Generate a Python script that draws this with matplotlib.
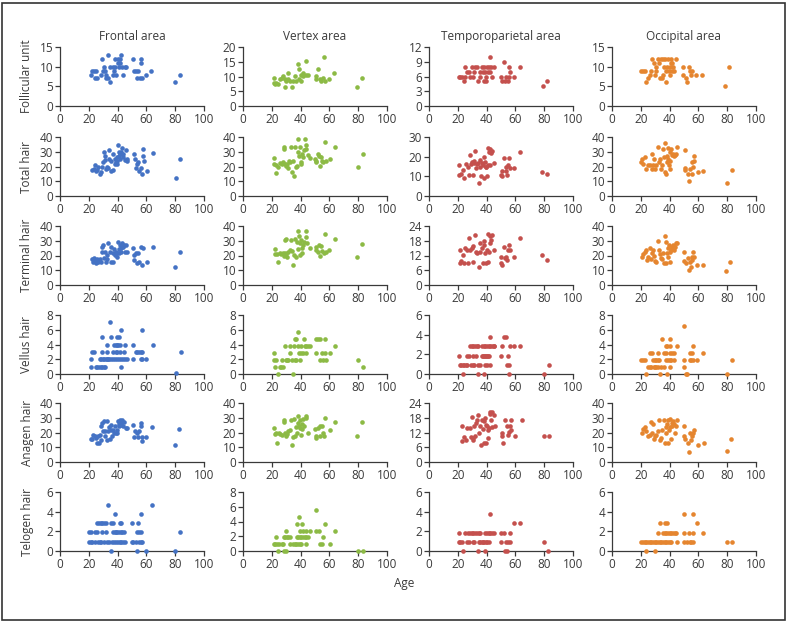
import matplotlib
matplotlib.use('Agg')
import matplotlib.pyplot as plt
from matplotlib.patches import Rectangle
import numpy as np

# (age, value) pairs

# --- Follicular unit ---
fu_frontal = [(21.8, 8), (22, 9), (23.5, 9), (25, 9), (24.5, 7), (26, 7), (29, 12), (28.5, 8), (30, 9),
              (30.5, 10), (32, 8), (31.5, 9), (32, 7), (33, 13), (33, 7), (35, 6), (35, 10), (37, 10),
              (37, 8), (37.5, 9), (38.5, 10), (39, 8), (38.5, 12), (40, 12), (40, 11), (41, 10), (42, 12),
              (42.5, 13), (42, 11), (43, 10), (44, 8), (45, 10), (46, 10), (51, 12), (51.5, 9), (53, 9),
              (54, 9), (53.5, 7), (55.5, 7), (56.5, 12), (56.5, 11), (57, 7), (59.5, 8), (63.5, 9),
              (80, 6), (83, 8)]
fu_vertex = [(21.3, 9.5), (21.3, 7.9), (22.2, 7.3), (23, 7.9), (24.5, 7.6), (25.5, 9), (27, 9.5), (28, 10.3),
             (29, 6.5), (29.5, 9), (30, 8.4), (31, 11.2), (31.5, 9), (32.5, 8.4), (34, 6.5), (35, 8.4),
             (36, 10.3), (37, 8.4), (38, 14.4), (39, 12.4), (39, 9), (40, 10.5), (40.5, 8.4), (41.5, 11.2),
             (42, 10.3), (43.5, 15.4), (44, 10.5), (45, 10.5), (52, 12.4), (51, 10.3), (50.5, 9), (53.5, 9),
             (54.5, 8.4), (55.5, 9.5), (56, 16.5), (57, 8.4), (60, 9), (63, 11.2), (79.5, 6.5), (82.5, 9.5)]
fu_temporo = [(20.5, 6), (21.6, 6), (22.8, 6), (24, 5), (25.1, 8), (25.1, 6), (26.7, 7), (28.1, 7), (28.6, 6),
              (29.8, 8), (30.5, 6), (31.4, 7), (32.1, 8), (33.3, 8), (34.2, 5), (35.1, 7), (35.6, 6),
              (36.7, 8), (37.4, 7), (37.9, 5), (38.4, 8), (39.1, 7), (39.8, 6), (39.8, 5), (40.2, 8),
              (40.7, 7), (41.6, 8), (42.1, 10), (42.6, 7), (43.3, 8), (43.7, 6), (45.3, 8), (50, 6),
              (50.5, 5), (51.9, 9), (53, 5), (53.7, 6), (54.7, 5), (55.3, 6), (55.8, 8), (56, 7),
              (58.8, 6), (63, 8), (79, 4), (81.9, 5)]
fu_occipital = [(20.4, 9), (21.6, 9), (22.7, 9), (23.9, 6), (25.1, 7), (26.7, 8), (27.4, 9), (28.1, 12),
                (29, 11), (29.7, 8), (30.4, 9), (30.9, 10), (31.6, 12), (32.3, 11), (33.2, 7), (34.3, 12),
                (34.6, 7), (35.5, 12), (35.5, 8), (36.2, 10), (36.9, 12), (37.4, 6), (37.8, 9), (38.3, 10),
                (39, 12), (39.4, 9), (40.1, 10), (40.1, 8), (40.8, 11), (41.3, 12), (42, 9), (42, 11),
                (42.5, 10), (43.2, 9), (44.3, 12), (49.4, 10), (49.4, 8), (51.3, 7), (52.4, 6), (53.4, 10),
                (54.1, 9), (54.8, 8), (55.5, 9), (58.2, 8), (62.2, 8), (78.4, 5), (81.4, 10)]

# --- Total hair ---
total_frontal = [(22.5, 17.6), (23.6, 18.3), (24.3, 21), (24.8, 17), (25.9, 17.6), (26.6, 20), (27.5, 15),
                 (28.2, 16), (29.4, 19.4), (30, 23.3), (30.6, 30), (31, 27.4), (31.2, 24.5), (32, 18.3),
                 (32.4, 19.4), (33.3, 18.8), (34, 31.3), (34.3, 25), (35.2, 24), (35.6, 17), (36.6, 28.3),
                 (37, 17.6), (38, 21.7), (38.4, 25), (38.9, 22.8), (39.4, 22), (39.8, 24), (39.8, 26.3),
                 (40.5, 34.3), (40.9, 29.7), (41.2, 27.4), (41.7, 25), (42, 28.6), (42.6, 29.7), (43, 32.5),
                 (43.5, 26.3), (43.9, 28.6), (44.9, 24.5), (45.6, 30.9), (46.3, 24), (46.8, 25), (51.4, 28.6),
                 (51.9, 25), (52.5, 18.8), (53.7, 21.7), (54.2, 23.3), (55, 17), (56, 18.8), (57.2, 15),
                 (57.4, 27.4), (57.9, 32), (58.3, 24), (60.6, 17), (64.6, 29.3), (80.3, 12), (83.3, 25)]
total_vertex = [(21.3, 25.6), (21.3, 21.7), (23, 15.5), (22.7, 21), (24.5, 20), (25.5, 22.4), (26.8, 21.7),
                (27.8, 22.8), (28.5, 32), (28.7, 33.1), (29.2, 21.7), (30, 20.6), (30.6, 21.7), (31.5, 19.2),
                (31.9, 24), (32.9, 22.8), (33.1, 33.1), (34.3, 16), (34.7, 24), (35.2, 13.7), (36.1, 33.1),
                (36.6, 19.4), (37.5, 20.6), (38, 38.9), (38.4, 29.7), (38.9, 27.4), (39.4, 33.1), (40, 21.7),
                (40.5, 22.8), (40.7, 28.6), (41.7, 26.3), (42.1, 30.9), (43.3, 38.9), (43.5, 32), (44, 34.3),
                (45.1, 28), (46.3, 25.6), (49.8, 25), (50.5, 22.8), (50.9, 24), (52, 28.6), (52.8, 27.4),
                (53.7, 20.6), (54.2, 26.3), (54.6, 24), (55.6, 22.8), (56.7, 36.6), (57.9, 24), (60.2, 25),
                (64, 33.1), (80, 19.4), (83.3, 28.6)]
total_temporo = [(20.5, 16), (21, 10.8), (22, 11), (23.5, 13.2), (24, 9), (25.8, 16.3), (27.4, 15), (28, 10.8),
                 (28.6, 21), (29, 16.3), (29.8, 17.5), (30.5, 10.8), (31, 18), (31.4, 16.8), (32, 23),
                 (32.3, 14), (33.3, 16.3), (33.7, 17), (34.4, 6.8), (35.1, 18.4), (35.6, 14.5), (36, 10),
                 (36.7, 16.8), (37.4, 15.8), (37.9, 19.7), (38.4, 9), (38.8, 17.5), (39.3, 14.6), (39.8, 15),
                 (40.2, 10.3), (40.7, 15.8), (41.2, 24.4), (41.6, 22.3), (42.1, 15.8), (42.6, 23.7),
                 (43.3, 21.8), (43.7, 23), (45.3, 17), (50, 10.8), (50.5, 12.5), (50.5, 10), (52.3, 19.2),
                 (53.3, 15), (53.7, 12.8), (54.2, 10.8), (55.1, 15.8), (55.8, 19.2), (56, 14), (59.3, 14),
                 (63.5, 22.3), (78.8, 12), (82, 11)]
total_occipital = [(20.4, 22.9), (21.1, 25), (21.6, 21.7), (22.7, 26.3), (23.9, 18.3), (25.1, 21), (26.7, 21),
                   (27.6, 28.6), (28.1, 18.3), (28.5, 21), (29.2, 25), (29.9, 18.3), (30.9, 21), (32, 33.1),
                   (32.7, 22.9), (33.6, 25), (34.3, 18.3), (35, 21), (35.5, 32), (36.2, 26.3), (36.7, 16),
                   (36.9, 36.1), (37.8, 14.9), (38, 22.9), (38.5, 27.4), (39, 32.7), (39.2, 25), (39.7, 21),
                   (40.1, 18.3), (40.1, 29.7), (40.6, 24), (41.3, 32), (42, 27.9), (42.5, 28.6), (42.9, 27.4),
                   (43.6, 27.9), (44.3, 28.6), (45.2, 33.1), (50.6, 30.9), (50.6, 18.8), (50.8, 17.6),
                   (52.9, 14.9), (53.6, 10.3), (54.5, 18.3), (55.5, 22.9), (55.9, 14.9), (56.4, 19.4),
                   (56.8, 27.4), (56.8, 24), (59.9, 16), (63.3, 17.1), (80, 9.1), (83, 17.8)]

# --- Terminal hair ---
terminal_frontal = [(22.5, 17.4), (22.9, 15.9), (23.6, 18.1), (24.3, 16.5), (24.8, 14.7), (25.5, 17.4),
                    (26.4, 15.9), (27.1, 17), (27.8, 17.4), (28.2, 15.9), (29, 25.9), (29.4, 22.6), (30, 27),
                    (30.6, 18.1), (31, 22.6), (31.7, 15.9), (32.4, 17.4), (32.9, 20.3), (33.3, 28.2),
                    (34.7, 22.6), (35.2, 15.9), (35.6, 25.9), (36.6, 22), (37, 15.9), (37.5, 24.1), (38, 20.3),
                    (38.7, 22.6), (39.4, 18.8), (39.8, 22), (40.3, 29.4), (40.7, 24.6), (41.2, 21.5), (41.7, 27),
                    (42.1, 24.8), (42.6, 22.6), (43, 28.2), (43.5, 25.9), (44.4, 27), (44.9, 22.6), (45.8, 27),
                    (46.8, 22.6), (50.9, 24.8), (51.4, 20.3), (51.4, 17), (52.5, 22), (53.7, 14.7),
                    (54.4, 21.5), (55, 15.9), (56.5, 25.9), (57.2, 13.6), (57.9, 24.8), (60.2, 15.9),
                    (64.4, 25.5), (79.9, 12.5), (83.1, 22.6)]
terminal_vertex = [(22, 24.1), (22, 21), (23.6, 20.8), (24.5, 15.6), (25.5, 21.9), (26.6, 21), (27.8, 21.9),
                   (28.5, 19.7), (28.9, 30.8), (29.4, 21.9), (29.6, 31.5), (30.1, 21), (30.6, 19.2), (31.5, 22.6),
                   (32.4, 23.7), (33.1, 30.8), (33.8, 23.2), (34.7, 13.6), (35.2, 20.3), (35.9, 31.5),
                   (36.6, 19.2), (37.5, 29.3), (38, 24.1), (38.4, 36.3), (38.9, 33), (39.4, 20.3), (39.8, 28.2),
                   (40.3, 30.4), (40.7, 24.8), (41.2, 21.5), (41.7, 27), (42.6, 29.3), (43.5, 36.3), (44, 32.6),
                   (44.4, 28.2), (46.3, 24.8), (50.5, 23.7), (50.9, 25.9), (52.1, 22.6), (52.8, 27), (53.7, 19.7),
                   (54.4, 26.4), (55.1, 23.2), (56, 21.9), (56.7, 34.4), (57.9, 22.6), (59.7, 23.7),
                   (63.9, 31.5), (79.4, 18.8), (82.9, 27.5)]
terminal_temporo = [(21.2, 14.2), (21.2, 9.1), (22.1, 9.9), (23.5, 12.2), (24, 9.1), (25.1, 14.9), (26.3, 14.2),
                    (27.4, 9.1), (28.1, 19.3), (28.6, 14.2), (29.8, 14.9), (30.5, 15.8), (30.9, 9.5), (32.1, 20.2),
                    (32.8, 13.5), (33.3, 12.9), (34.4, 7.5), (35.1, 13.5), (35.6, 17.2), (36.7, 14.9), (37.4, 9.1),
                    (37.9, 18), (38.4, 16.2), (39.1, 12.9), (39.8, 9.1), (40.2, 14.2), (40.7, 9.5), (41.2, 20.9),
                    (41.6, 13.5), (42.1, 16.9), (42.6, 20), (43.3, 18.5), (43.7, 20.5), (45.3, 14.2), (50, 11.3),
                    (50.2, 9.1), (50.5, 8.2), (51.9, 15.3), (53, 10.9), (53.7, 11.5), (54.2, 10.2), (55.1, 14.2),
                    (55.8, 16.2), (56, 14.2), (58.8, 11.3), (63, 19.2), (78.8, 12.2), (81.9, 10.2)]
terminal_occipital = [(21.1, 19.2), (21.6, 21), (22.7, 22.6), (23.9, 23.7), (24.4, 17), (25.1, 19.2),
                      (26.7, 24.8), (27.4, 17.4), (28.1, 21.5), (28.5, 23.7), (29.2, 19.7), (29.7, 16.3),
                      (30.9, 15.9), (32, 29.9), (32.7, 23.7), (33.6, 21), (34.3, 18.1), (35, 17.4), (35.5, 21.9),
                      (36.2, 14.7), (36.9, 33.3), (37.4, 29.3), (37.8, 14.7), (38.3, 21.5), (38.7, 24.8),
                      (39.2, 19.2), (39.7, 27), (40.1, 15.9), (40.6, 22.6), (41.1, 23.7), (41.5, 25.9),
                      (42, 24.8), (42.5, 27), (42.9, 23.7), (43.6, 25.9), (44.3, 28.2), (45.2, 28.6),
                      (50.1, 22.6), (50.3, 16.5), (51.7, 14.7), (52.9, 18.1), (53.6, 10.3), (54.1, 15.9),
                      (54.8, 12.5), (55.5, 19.2), (55.9, 17), (56.4, 22.6), (56.8, 19.2), (59.2, 13.6),
                      (62.9, 13.6), (79.1, 9.6), (81.9, 15.9)]

# --- Vellus hair ---
vellus_frontal = [(21.3, 1), (24.8, 1), (25.9, 1), (27.1, 1), (28.2, 1), (29.4, 1), (30.6, 1), (31.3, 1), (42.6, 1),
                  (21.8, 2), (27.5, 2), (28.2, 2), (29.6, 2), (30.6, 2), (31.7, 2), (32.4, 2), (33.3, 2), (34.3, 2),
                  (35.2, 2), (37, 2), (38, 2), (39.8, 2), (41, 2), (42.1, 2), (43.8, 2), (44.9, 2), (46.3, 2),
                  (50.9, 2), (56, 2), (57.2, 2), (60, 2),
                  (22.5, 3), (23.6, 3), (29.4, 3), (32.9, 3), (37, 3), (38.7, 3), (39.8, 3), (41.7, 3), (44.4, 3),
                  (52.5, 3), (53.7, 3), (54.9, 3), (56, 3), (57.2, 3), (83.8, 3),
                  (32.4, 4), (37.5, 4), (38.7, 4), (39.8, 4), (40.5, 4), (41.7, 4), (44.9, 4), (50.9, 4), (64.4, 4),
                  (29.4, 5), (35.6, 5), (39.4, 5), (41, 5), (42.6, 6), (57.2, 6), (34.7, 7), (80.3, 0.1)]
vellus_vertex = [(21.3, 2.82), (21.3, 1.88), (23.1, 1.88), (22.2, 0.94), (24.3, 0), (25.5, 0.94), (26.6, 0.94),
                 (27.8, 0.94), (27.3, 1.88), (28.9, 3.76), (29.6, 1.88), (31.5, 1.88), (32.4, 3.76), (30.6, 1.88),
                 (32.9, 2.82), (34.3, 1.88), (34.7, 0), (35.9, 1.88), (37, 1.88), (35.2, 3.76), (35.9, 4.7),
                 (37, 4.7), (38.2, 5.64), (38.9, 2.82), (39.4, 1.88), (38.2, 3.76), (40, 2.82), (40.5, 3.76),
                 (41.7, 2.82), (42.1, 4.7), (42.8, 3.76), (43.5, 2.82), (44, 3.76), (45.1, 3.76), (46.3, 3.76),
                 (50.5, 4.7), (50.9, 2.82), (52.1, 4.7), (53.2, 4.7), (54.6, 2.82), (53.7, 1.88), (55.6, 1.88),
                 (56.7, 2.82), (56.7, 4.7), (57.4, 1.88), (60.2, 2.82), (63.9, 3.76), (80.1, 1.88), (83.3, 0.94)]
vellus_temporo = [(21.2, 0.93), (22.1, 0.93), (23.5, 0.93), (24.4, 0.93), (25.8, 0.93), (26.7, 0.93), (29.1, 0.93),
                  (30.5, 0.93), (31.4, 0.93), (33.7, 0.93), (35.6, 0.93), (39.1, 0.93), (40.2, 0.93), (42.1, 0.93),
                  (54.2, 0.93), (55.8, 0.93), (83.3, 0.93),
                  (20.5, 1.87), (26.7, 1.87), (28.1, 1.87), (30.9, 1.87), (32.3, 1.87), (36.7, 1.87), (37.4, 1.87),
                  (38.4, 1.87), (39.1, 1.87), (39.8, 1.87), (40.2, 1.87), (40.7, 1.87), (41.6, 1.87), (50.2, 1.87),
                  (54.7, 1.87),
                  (28.6, 2.8), (29.8, 2.8), (30.9, 2.8), (32.1, 2.8), (33.3, 2.8), (34.2, 2.8), (36.7, 2.8),
                  (37.9, 2.8), (39.1, 2.8), (40.2, 2.8), (41.4, 2.8), (42.6, 2.8), (43.7, 2.8), (44.9, 2.8),
                  (45.3, 2.8), (50.7, 2.8), (56, 2.8), (59.3, 2.8), (63.5, 2.8),
                  (42.6, 3.73), (52.3, 3.73), (53.3, 3.73),
                  (23.5, 0), (33.7, 0), (38.4, 0), (55.8, 0), (79.8, 0)]
vellus_occipital = [(23.9, 0), (33.6, 0), (38.3, 0), (51.7, 0), (52.4, 0), (80, 0),
                    (25.1, 0.94), (26.2, 0.94), (27.4, 0.94), (29, 0.94), (29.9, 0.94), (30.9, 0.94), (32, 0.94),
                    (34.3, 0.94), (36, 0.94), (40.1, 0.94), (50.1, 0.94),
                    (20.4, 1.88), (21.6, 1.88), (22.7, 1.88), (28.5, 1.88), (29.7, 1.88), (30.9, 1.88), (32, 1.88),
                    (32.7, 1.88), (37.8, 1.88), (39, 1.88), (40.1, 1.88), (41.3, 1.88), (42.9, 1.88), (50.1, 1.88),
                    (54.1, 1.88), (55.2, 1.88), (56.4, 1.88), (59.2, 1.88), (83.1, 1.88),
                    (26.7, 2.82), (27.8, 2.82), (32, 2.82), (36.2, 2.82), (37.8, 2.82), (40.6, 2.82), (42, 2.82),
                    (43.2, 2.82), (54.1, 2.82), (55.5, 2.82), (63.3, 2.82),
                    (37.4, 3.76), (38.3, 3.76), (40.1, 3.76), (44.8, 3.76), (56.4, 3.76),
                    (35, 4.7), (40.1, 4.7), (50.1, 6.5)]

# --- Anagen hair ---
anagen_frontal = [(21.3, 15.5), (22.5, 15.5), (23.1, 18.4), (24.1, 17.3), (24.8, 16.1), (25.9, 12.7), (26.4, 17.3),
                  (27.3, 12.7), (27.8, 18.4), (28.2, 15), (28.7, 24.1), (29.4, 26.4), (29.6, 20.7), (30.6, 27.5),
                  (31, 17.3), (31.5, 20.7), (32.4, 15), (32.9, 27.5), (33.3, 20.7), (34, 23.6), (34.7, 15.5),
                  (35.2, 21.8), (35.6, 25.2), (36.3, 17.7), (37, 21.8), (37.5, 20), (38.2, 24.1), (38.7, 20),
                  (39.4, 19.5), (39.8, 21.8), (40.3, 27.5), (40.7, 25.7), (41.2, 24.1), (41.7, 28.6), (42.1, 26.4),
                  (42.6, 25.2), (43, 28.2), (43.5, 24.1), (44.4, 26.8), (45.6, 23), (46.3, 23), (50.9, 24.8),
                  (51.4, 16.8), (51.9, 20.7), (53.2, 19.5), (54.2, 16.8), (54.9, 20.7), (56.5, 26.4), (56.5, 24.5),
                  (56.9, 13.9), (57.2, 16.8), (59.7, 16.8), (63.7, 23.6), (79.6, 11.6), (82.9, 22.5)]
anagen_vertex = [(21.8, 23), (22, 19.1), (23.1, 19.5), (23.6, 12.7), (25, 19.5), (25.9, 19.1), (27.3, 18.4),
                 (28.2, 28.6), (28.7, 27.3), (29.2, 19.5), (30.1, 17.3), (30.6, 19.1), (31.5, 20.7), (32.4, 21.8),
                 (33.1, 28.6), (34.3, 11.6), (34.7, 16.8), (35.2, 29.1), (35.9, 17.7), (36.6, 23.6), (37.5, 19.5),
                 (38, 30.9), (38.4, 26.4), (38.9, 24.5), (39.4, 28.2), (39.8, 23), (40.3, 18.4), (40.7, 25.9),
                 (41.2, 22.3), (41.7, 29.1), (42.6, 24.5), (43.5, 30.9), (44, 29.8), (44.9, 20), (50, 22.3),
                 (50.5, 17.3), (50.9, 16.1), (52.1, 23), (53.2, 24.1), (53.7, 17.3), (54.6, 24.5), (55.6, 20),
                 (56.3, 17.3), (56.7, 29.5), (60.2, 21.4), (63.7, 27.3), (79.4, 17.3), (82.4, 26.8)]
anagen_temporo = [(22.8, 14.7), (22.8, 8.7), (24.4, 10.1), (25.8, 9), (26.7, 13.8), (28.6, 13.8), (29.1, 10.1),
                  (29.8, 18.3), (30.5, 9), (30.9, 9.7), (31.4, 14.7), (32.1, 10.4), (32.8, 15.8), (33.3, 16.9),
                  (33.7, 19.2), (34.4, 11.7), (35.1, 14.7), (36, 7), (36.7, 16.9), (37.4, 13.4), (37.9, 7.6),
                  (38.4, 16.5), (39.1, 17.9), (39.3, 15.1), (39.8, 7.6), (40.2, 14.5), (40.7, 13.1), (41.2, 9.7),
                  (41.6, 13.8), (42.1, 20.2), (42.6, 19.6), (43, 17.2), (43.5, 20.2), (44, 14.2), (44.9, 19.2),
                  (46, 14.7), (50.7, 12), (50.9, 10.4), (51.4, 7.9), (53, 16.9), (54.2, 14.7), (55.1, 11),
                  (55.6, 12.4), (56, 14.7), (57, 16.9), (57, 13.1), (60, 10.6), (64.7, 17.2), (80.2, 10.6),
                  (83.3, 10.6)]
anagen_occipital = [(21.1, 20), (21.6, 22.3), (22.7, 23.6), (23.9, 20.7), (25.1, 17.3), (26.2, 18.4), (27.4, 26.8),
                    (28.1, 20), (28.5, 25.9), (29, 15.5), (29.7, 17.3), (30.9, 18.4), (32, 20.7), (32.7, 28.2),
                    (33.2, 15), (34.3, 16.1), (35, 21.8), (36, 28.2), (36.7, 12.7), (37.4, 23.6), (37.8, 19.5),
                    (38.3, 25.9), (38.7, 28.2), (39.2, 12.7), (39.7, 21.8), (40.1, 23.6), (40.6, 29.1),
                    (41.1, 15.5), (41.5, 26.4), (42, 24.1), (42.5, 27.5), (42.9, 25.9), (43.6, 19.5), (44.3, 24.1),
                    (45.2, 28.2), (50.1, 24.5), (50.3, 17.3), (50.8, 15.5), (52.9, 12.7), (53.6, 7), (54.5, 20),
                    (55.2, 15), (55.9, 17.3), (56.4, 20), (56.8, 21.8), (59.9, 11.6), (63.8, 13.2), (79.6, 7.5),
                    (82.4, 15.5)]

# --- Telogen hair ---
telogen_frontal = [(20.1, 0.94), (21.3, 0.94), (22.5, 0.94), (24.3, 0.94), (26.4, 0.94), (27.5, 0.94), (28.7, 0.94),
                   (30.6, 0.94), (32.9, 0.94), (34.3, 0.94), (36.3, 0.94), (37.5, 0.94), (39.1, 0.94), (40.5, 0.94),
                   (41.7, 0.94), (42.6, 0.94), (44, 0.94), (44.9, 0.94), (49.8, 0.94), (50.9, 0.94), (52.5, 0.94),
                   (54.9, 0.94), (56, 0.94), (56.7, 0.94),
                   (20.1, 1.89), (21.3, 1.89), (24.3, 1.89), (25.9, 1.89), (28.9, 1.89), (31.7, 1.89), (36.8, 1.89),
                   (38, 1.89), (38.7, 1.89), (39.8, 1.89), (41, 1.89), (42.1, 1.89), (43.3, 1.89), (44.4, 1.89),
                   (53.7, 1.89), (54.9, 1.89), (56, 1.89), (83.3, 1.89),
                   (25.9, 2.83), (27.1, 2.83), (28.2, 2.83), (29.4, 2.83), (30.6, 2.83), (31.7, 2.83), (35.2, 2.83),
                   (37, 2.83), (41.7, 2.83), (42.6, 2.83), (50.2, 2.83), (54.2, 2.83),
                   (38, 3.74), (56.5, 3.74), (33.6, 4.65), (63.7, 4.65),
                   (35.6, 0), (53.2, 0), (59.5, 0), (79.9, 0)]
telogen_vertex = [(21.3, 0.92), (22, 0.92), (23.6, 0.92), (25, 0.92), (26.9, 0.92), (27.8, 0.92), (32.4, 0.92),
                  (34.7, 0.92), (35.9, 0.92), (37, 0.92), (38.2, 0.92), (39.4, 0.92), (40.5, 0.92), (43.5, 0.92),
                  (53.2, 0.92), (54.6, 0.92), (60.2, 0.92),
                  (23.1, 1.84), (28.2, 1.84), (29.4, 1.84), (30.6, 1.84), (31.5, 1.84), (32.9, 1.84), (37.5, 1.84),
                  (38.4, 1.84), (39.4, 1.84), (40.5, 1.84), (41.7, 1.84), (42.8, 1.84), (44, 1.84), (45.1, 1.84),
                  (55.6, 1.84),
                  (29.6, 2.76), (39.4, 2.76), (41.7, 2.76), (43.5, 2.76), (46.3, 2.76), (50.9, 2.76), (52.8, 2.76),
                  (63.9, 2.76),
                  (37.5, 3.68), (40.7, 3.68), (56.7, 3.68), (38.7, 4.6), (50.5, 5.52),
                  (24.3, 0), (28.2, 0), (30.1, 0), (80.1, 0), (83.3, 0)]
telogen_temporo = [(20.5, 0.94), (21.6, 0.94), (22.8, 0.94), (26.7, 0.94), (28.1, 0.94), (30.5, 0.94), (31.4, 0.94),
                   (34.4, 0.94), (35.6, 0.94), (36.7, 0.94), (37.4, 0.94), (38.4, 0.94), (39.3, 0.94), (40.2, 0.94),
                   (41.6, 0.94), (50, 0.94), (53.7, 0.94), (54.7, 0.94), (56, 0.94), (79.8, 0.94),
                   (20.5, 1.88), (25.1, 1.88), (27.4, 1.88), (28.6, 1.88), (29.8, 1.88), (30.9, 1.88), (32.1, 1.88),
                   (33.3, 1.88), (34.4, 1.88), (35.6, 1.88), (39.1, 1.88), (40.2, 1.88), (41.4, 1.88), (42.6, 1.88),
                   (43.7, 1.88), (45.3, 1.88), (50, 1.88), (52.3, 1.88), (56, 1.88),
                   (59.3, 2.82), (63.5, 2.82), (42.1, 3.76),
                   (23.5, 0), (33.7, 0), (39.1, 0), (53, 0), (54.2, 0), (82.8, 0)]
telogen_occipital = [(20.4, 0.94), (21.6, 0.94), (22.7, 0.94), (23.9, 0.94), (25.1, 0.94), (26.2, 0.94),
                     (27.4, 0.94), (28.5, 0.94), (29.7, 0.94), (30.9, 0.94), (32, 0.94), (33.2, 0.94), (34.3, 0.94),
                     (35.5, 0.94), (36.7, 0.94), (37.8, 0.94), (39, 0.94), (40.1, 0.94), (41.3, 0.94), (45.2, 0.94),
                     (50.1, 0.94), (52.4, 0.94), (54.1, 0.94), (55.2, 0.94), (56.4, 0.94), (79.6, 0.94), (83.1, 0.94),
                     (31.6, 1.88), (35.5, 1.88), (36.7, 1.88), (37.8, 1.88), (39, 1.88), (40.1, 1.88), (41.3, 1.88),
                     (42.5, 1.88), (43.6, 1.88), (44.3, 1.88), (50.1, 1.88), (53.4, 1.88), (56.4, 1.88), (63.3, 1.88),
                     (33.6, 2.82), (36.7, 2.82), (38.3, 2.82), (59.2, 2.82), (50.1, 3.76), (56.4, 3.76),
                     (23.9, 0), (30.2, 0)]

columns = ['Frontal area', 'Vertex area', 'Temporoparietal area', 'Occipital area']
row_labels = ['Follicular unit', 'Total hair', 'Terminal hair', 'Vellus hair', 'Anagen hair', 'Telogen hair']
colors = ['#4472c4', '#8cba45', '#c4504d', '#e5852f']
y_max = [[15, 20, 12, 15], [40, 40, 30, 40], [40, 40, 24, 40], [8, 8, 6, 8], [40, 40, 24, 40], [6, 8, 6, 6]]
y_step = [[5, 5, 3, 5], [10, 10, 10, 10], [10, 10, 6, 10], [2, 2, 2, 2], [10, 10, 6, 10], [2, 2, 2, 2]]

panels = [
    [fu_frontal, fu_vertex, fu_temporo, fu_occipital],
    [total_frontal, total_vertex, total_temporo, total_occipital],
    [terminal_frontal, terminal_vertex, terminal_temporo, terminal_occipital],
    [vellus_frontal, vellus_vertex, vellus_temporo, vellus_occipital],
    [anagen_frontal, anagen_vertex, anagen_temporo, anagen_occipital],
    [telogen_frontal, telogen_vertex, telogen_temporo, telogen_occipital],
]

plt.rcParams['font.family'] = ['Open Sans', 'DejaVu Sans']
ink = '#3a3a3a'

W, H = 787, 623
fig = plt.figure(figsize=(W / 100, H / 100), dpi=100)

# panel positions in pixels
lefts = [60, 243, 429, 612]
tops = [47, 137, 226, 315, 403, 492]
pw, ph = 144, 59

for i in range(6):
    for j in range(4):
        ax = fig.add_axes([lefts[j] / W, 1 - (tops[i] + ph) / H, pw / W, ph / H])
        ages, vals = zip(*panels[i][j])
        ax.scatter(ages, vals, s=11, color=colors[j], linewidths=0, clip_on=False, zorder=3)
        ax.set_xlim(0, 100)
        ax.set_ylim(0, y_max[i][j])
        ax.set_xticks(range(0, 101, 20))
        ax.set_yticks(np.arange(0, y_max[i][j] + 0.01, y_step[i][j]))
        for s in ['top', 'right']:
            ax.spines[s].set_visible(False)
        for s in ['left', 'bottom']:
            ax.spines[s].set_color(ink)
            ax.spines[s].set_linewidth(0.9)
        ax.tick_params(length=3.5, width=0.9, color=ink, labelcolor=ink, labelsize=8.5, pad=1.5)
        if i == 0:
            ax.set_title(columns[j], fontsize=8.5, color=ink, pad=5)
        if j == 0:
            fig.text(27 / W, 1 - (tops[i] + ph / 2) / H, row_labels[i], rotation=90,
                     ha='center', va='center', fontsize=8.5, color=ink)

fig.text(404 / W, 1 - 584 / H, 'Age', ha='center', va='center', fontsize=8.5, color=ink)

# outer frame
fig.patches.append(Rectangle((2 / W, 3 / H), 783 / W, 617 / H, transform=fig.transFigure,
                             fill=False, edgecolor='#333333', linewidth=1.2))

fig.savefig('out.png', dpi=100)
